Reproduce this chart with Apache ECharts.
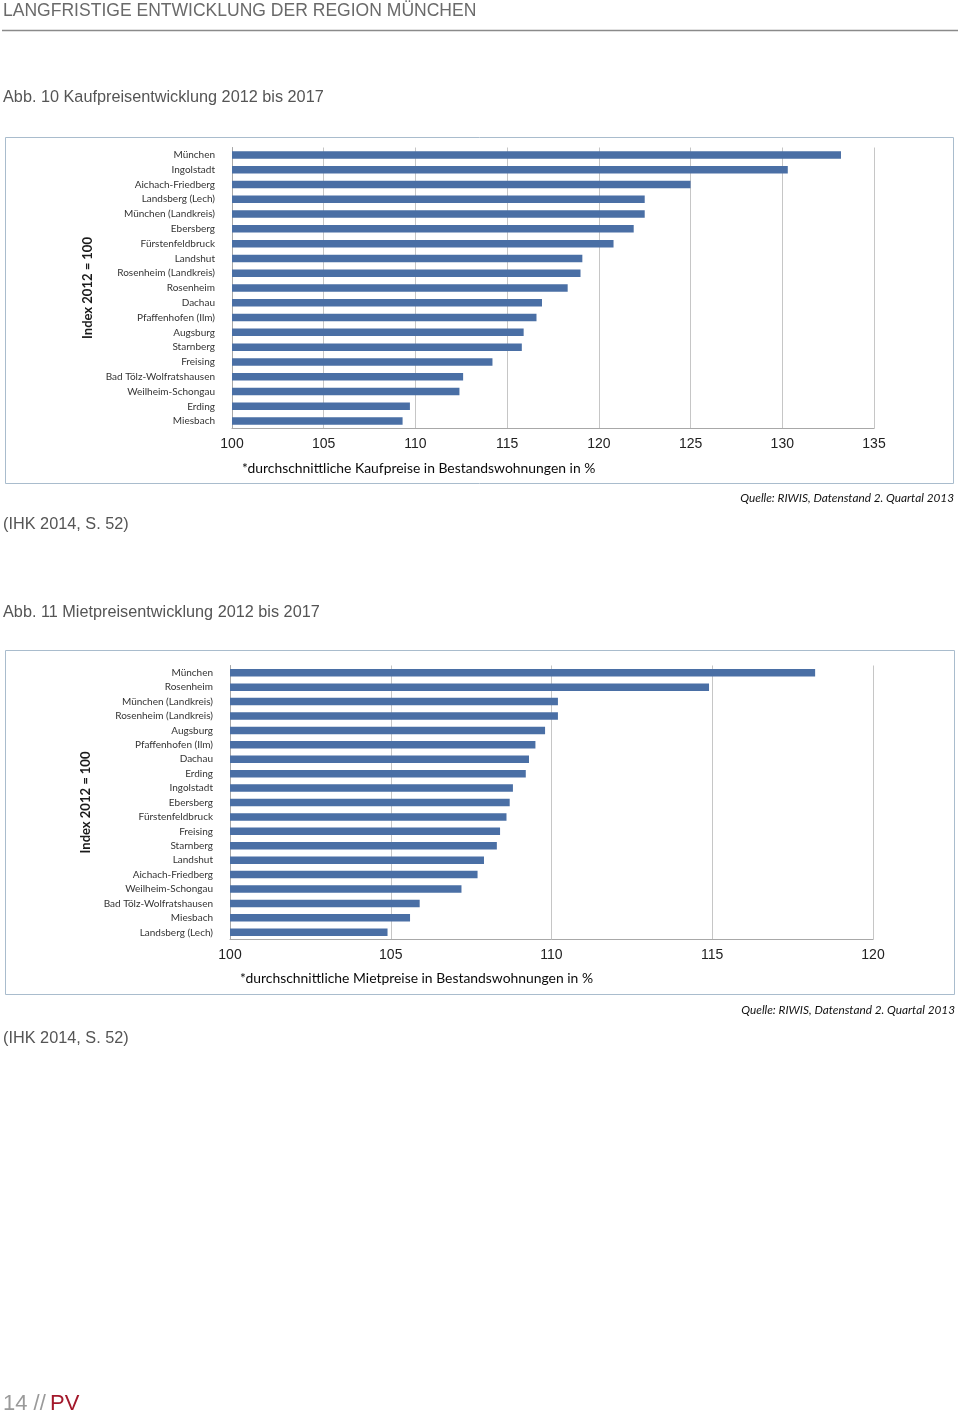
<!DOCTYPE html>
<html><head><meta charset="utf-8">
<script src="https://cdn.jsdelivr.net/npm/echarts@6/dist/echarts.min.js"></script>
<style>html,body{margin:0;padding:0;background:#fff}#c{width:960px;height:1416px}</style>
</head><body><div id="c"></div>
<script>
// ---- Data: Abb. 10 Kaufpreisentwicklung (Index 2012 = 100, Prognose 2017)
const kaufCategories = ["München","Ingolstadt","Aichach-Friedberg","Landsberg (Lech)","München (Landkreis)","Ebersberg","Fürstenfeldbruck","Landshut","Rosenheim (Landkreis)","Rosenheim","Dachau","Pfaffenhofen (Ilm)","Augsburg","Starnberg","Freising","Bad Tölz-Wolfratshausen","Weilheim-Schongau","Erding","Miesbach"];
const kaufValues = [133.2,130.3,125.0,122.5,122.5,121.9,120.8,119.1,119.0,118.3,116.9,116.6,115.9,115.8,114.2,112.6,112.4,109.7,109.3];
const kaufAxisMin = 100, kaufAxisMax = 135, kaufAxisStep = 5;

// ---- Data: Abb. 11 Mietpreisentwicklung
const mietCategories = ["München","Rosenheim","München (Landkreis)","Rosenheim (Landkreis)","Augsburg","Pfaffenhofen (Ilm)","Dachau","Erding","Ingolstadt","Ebersberg","Fürstenfeldbruck","Freising","Starnberg","Landshut","Aichach-Friedberg","Weilheim-Schongau","Bad Tölz-Wolfratshausen","Miesbach","Landsberg (Lech)"];
const mietValues = [118.2,114.9,110.2,110.2,109.8,109.5,109.3,109.2,108.8,108.7,108.6,108.4,108.3,107.9,107.7,107.2,105.9,105.6,104.9];
const mietAxisMin = 100, mietAxisMax = 120, mietAxisStep = 5;

const yAxisTitle = "Index 2012 = 100";

const BAR = "#4a6fa5";
const LBL = "Lato, 'Noto Sans', sans-serif";
const ARIAL = "'Liberation Sans', Arial, sans-serif";

const chart = echarts.init(document.getElementById('c'), null, {renderer:'canvas'});

function xAx(idx,min,max,step){
  return {type:'value', gridIndex:idx, min:min, max:max, interval:step,
    axisLine:{show:true, lineStyle:{color:'#a8a8a8', width:1}},
    axisTick:{show:false},
    splitLine:{show:true, lineStyle:{color:'#c6c6c6', width:1}},
    axisLabel:{fontFamily:ARIAL, fontSize:14, color:'#222', margin:9}};
}
function yAx(idx,cats){
  return {type:'category', gridIndex:idx, data:cats, inverse:true,
    axisLine:{show:true, lineStyle:{color:'#a8a8a8', width:1}},
    axisTick:{show:false},
    axisLabel:{fontFamily:LBL, fontSize:10, color:'#333', margin:17, interval:0},
    name:yAxisTitle, nameLocation:'middle', nameRotate:90, nameGap:129,
    nameTextStyle:{fontFamily:LBL, fontSize:13, fontWeight:'bold', color:'#1a1a1a'}};
}

function txt(x,y,t,font,fill,align){
  return {type:'text', x:x, y:y, silent:true,
    style:{text:t, font:font, fill:fill, textAlign:align||'left', textVerticalAlign:'middle'}};
}

const option = {
  animation:false,
  backgroundColor:'#fff',
  grid:[
    {left:232, width:642, top:147.5, height:281, containLabel:false},
    {left:230, width:643, top:665.5, height:274, containLabel:false}
  ],
  xAxis:[xAx(0,kaufAxisMin,kaufAxisMax,kaufAxisStep), xAx(1,mietAxisMin,mietAxisMax,mietAxisStep)],
  yAxis:[yAx(0,kaufCategories), yAx(1,mietCategories)],
  series:[
    {type:'bar', xAxisIndex:0, yAxisIndex:0, data:kaufValues, barWidth:7.5, itemStyle:{color:BAR}},
    {type:'bar', xAxisIndex:1, yAxisIndex:1, data:mietValues, barWidth:7.5, itemStyle:{color:BAR}}
  ],
  graphic:[
    txt(3,11,"LANGFRISTIGE ENTWICKLUNG DER REGION MÜNCHEN","17.55px "+ARIAL,'#6a6a6a'),
    {type:'line', silent:true, shape:{x1:2,y1:30.5,x2:958,y2:30.5}, style:{stroke:'#8a8a8a', lineWidth:1.5}},
    txt(3,98,"Abb. 10 Kaufpreisentwicklung 2012 bis 2017","16.25px "+ARIAL,'#555'),
    {type:'rect', silent:true, z:-1, shape:{x:5.5,y:137.5,width:948,height:346}, style:{fill:'none', stroke:'#a9bccd', lineWidth:1}},
    txt(242,469,"*durchschnittliche Kaufpreise in Bestandswohnungen in %","13.9px "+LBL,'#0a0a0a'),
    txt(954,498,"Quelle: RIWIS, Datenstand 2. Quartal 2013","italic 11.8px "+LBL,'#111','right'),
    txt(3,525,"(IHK 2014, S. 52)","16.3px "+ARIAL,'#555'),
    txt(3,613,"Abb. 11 Mietpreisentwicklung 2012 bis 2017","16.25px "+ARIAL,'#555'),
    {type:'rect', silent:true, z:-1, shape:{x:5.5,y:650.5,width:949,height:344}, style:{fill:'none', stroke:'#a9bccd', lineWidth:1}},
    txt(240,979,"*durchschnittliche Mietpreise in Bestandswohnungen in %","13.9px "+LBL,'#0a0a0a'),
    txt(955,1010,"Quelle: RIWIS, Datenstand 2. Quartal 2013","italic 11.8px "+LBL,'#111','right'),
    txt(3,1039,"(IHK 2014, S. 52)","16.3px "+ARIAL,'#555'),
    txt(3,1404,"14 //","22px "+ARIAL,'#9a9a9a'),
    txt(50,1404,"PV","22px "+ARIAL,'#a3182b')
  ]
};
chart.setOption(option);
</script></body></html>
